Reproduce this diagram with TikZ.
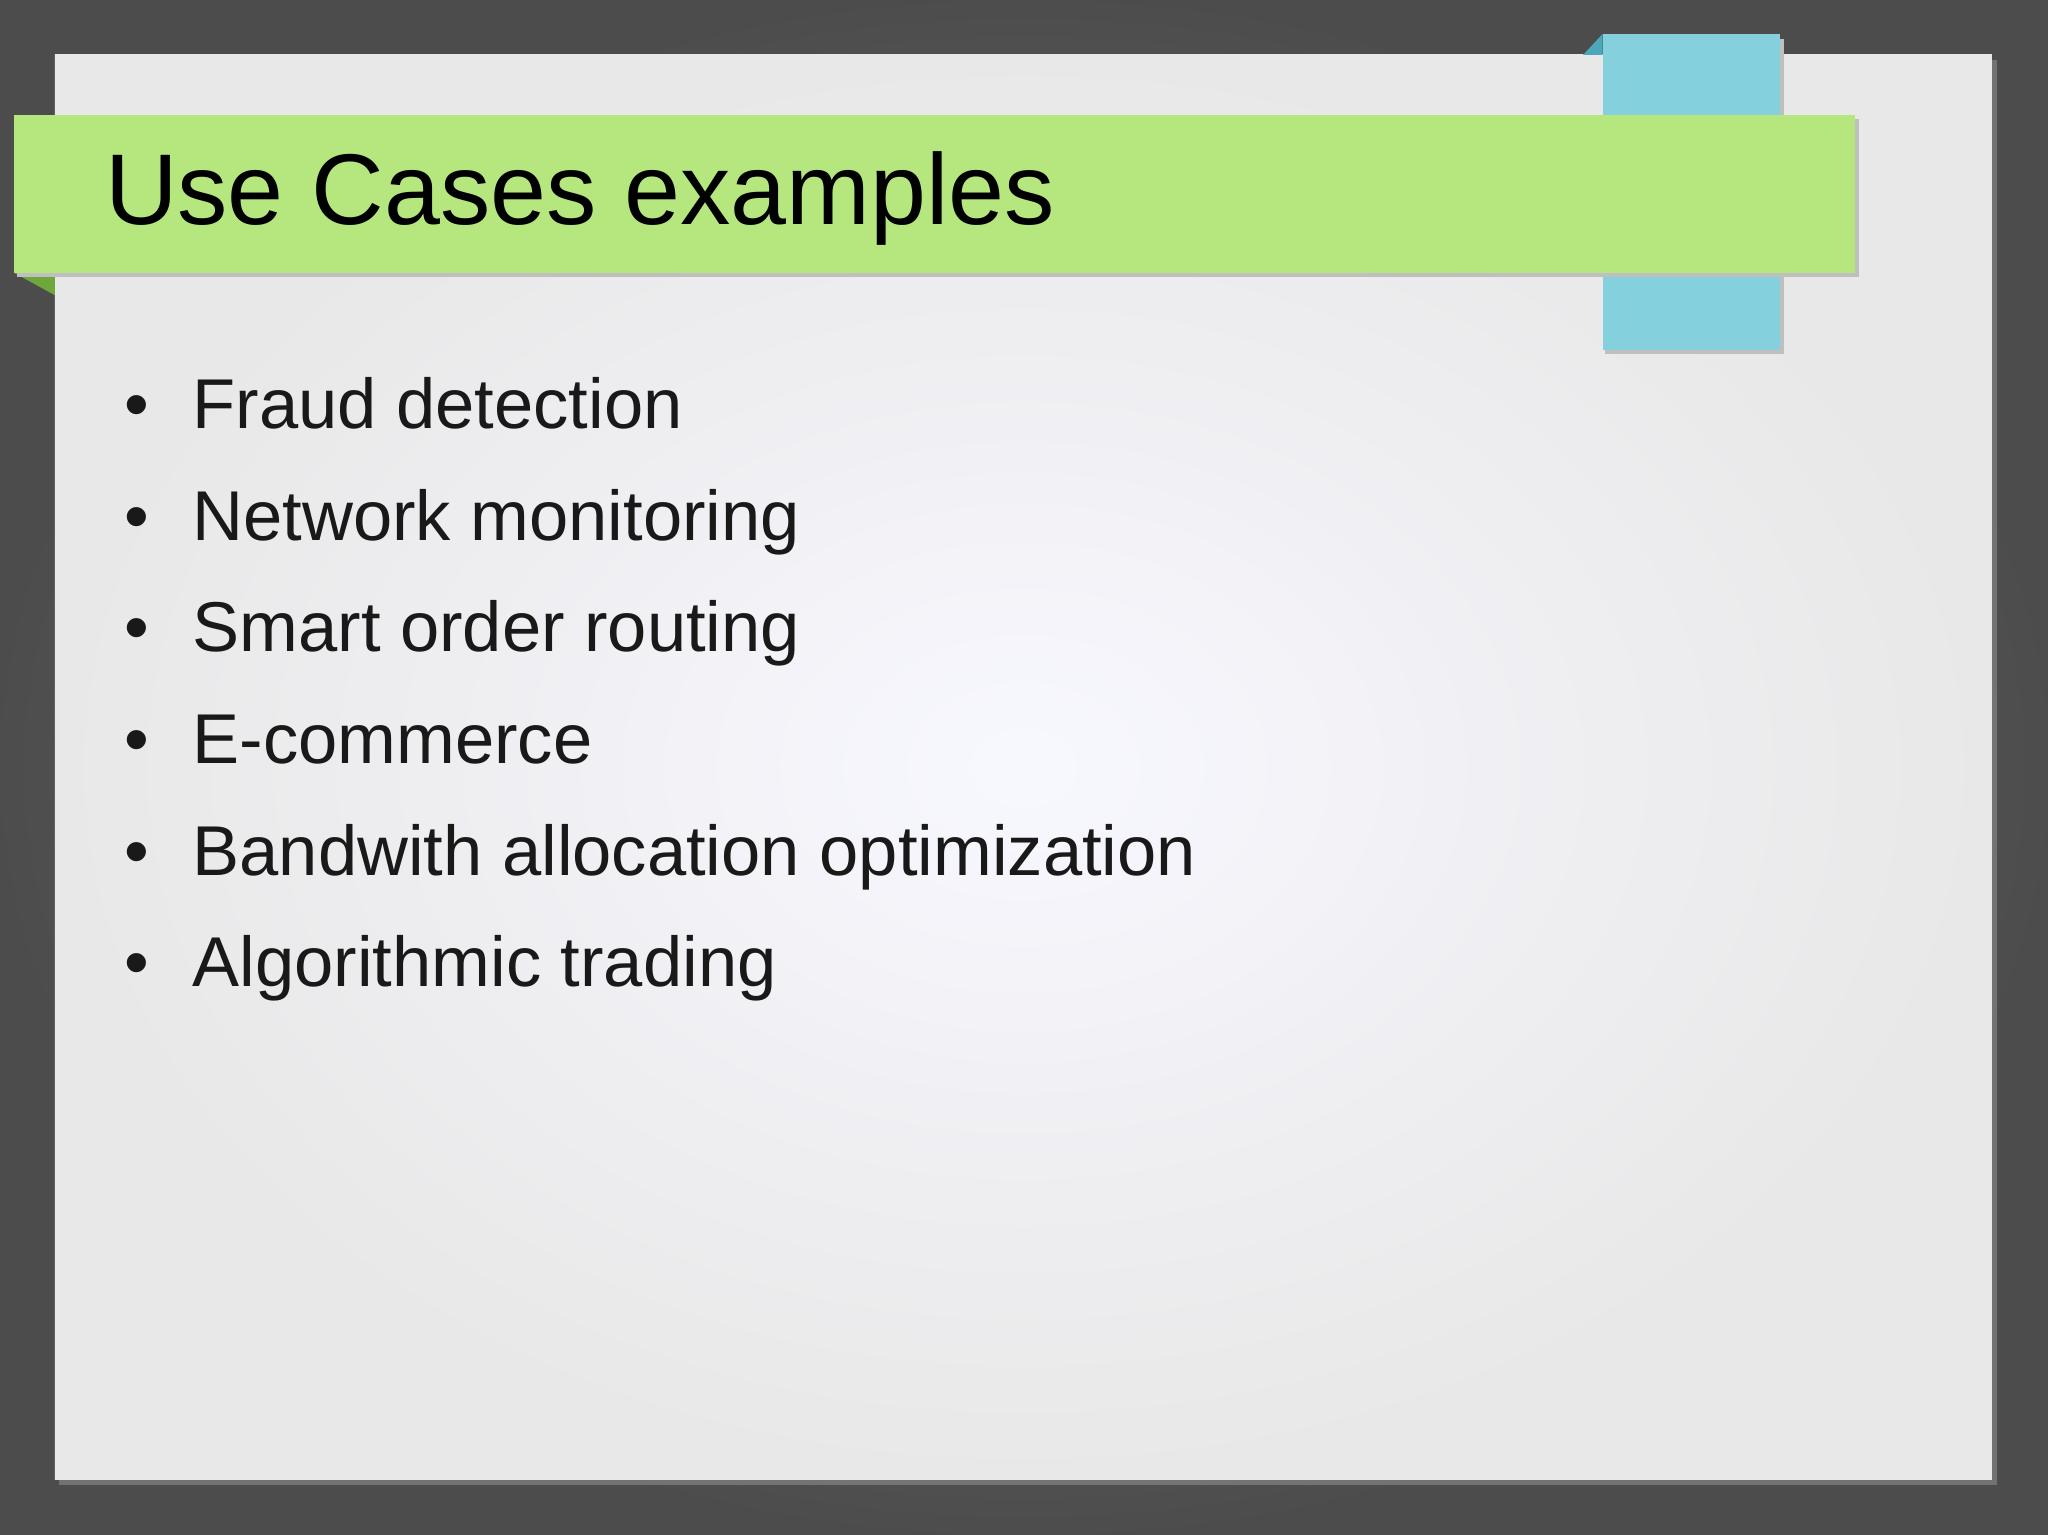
\documentclass[tikz,border=0pt]{standalone}
\usepackage{fontspec}
\setmainfont{Liberation Sans}
\begin{document}
\begin{tikzpicture}[x=0.5pt,y=-0.5pt,
  bul/.style={anchor=base west,inner sep=0pt,font=\fontsize{27}{32}\selectfont,text=black!90}]
\definecolor{bgd}{HTML}{555555}
\definecolor{tabblue}{HTML}{84D0DC}
\definecolor{tabdark}{HTML}{4AA8B8}
\definecolor{bannergreen}{HTML}{B5E77E}
\definecolor{greendark}{HTML}{6FA83A}
\useasboundingbox (0,0) rectangle (1568,1175);
\shade[inner color=bgd!80!white, outer color=bgd!90!black] (0,0) rectangle (1568,1175);
\fill[black!40,opacity=0.5] (45,46) rectangle (1529,1137);
\shade[inner color=white!97!blue, outer color=black!9] (42,42) rectangle (1525,1133);
\fill[tabdark] (1212,42) -- (1227,26) -- (1227,42) -- cycle;
\fill[black!25] (1229,30) rectangle (1366,271);
\fill[tabblue] (1227,26) rectangle (1363,268);
\fill[greendark] (11,209) -- (42,209) -- (42,226) -- cycle;
\fill[black!25] (13,91) rectangle (1423,212);
\fill[bannergreen] (11,88) rectangle (1420,209);
\node[anchor=base west,inner sep=0pt,font=\fontsize{38.5}{46}\selectfont] (title) at (80,172) {Use Cases examples};
\foreach \t [count=\i] in {Fraud detection,Network monitoring,Smart order routing,E-commerce,Bandwith allocation optimization,Algorithmic trading}{
  \node[bul] (b\i) at (147,{328+85.5*(\i-1)}) {\t};
  \node[bul] (d\i) at (95,{328+85.5*(\i-1)}) {•};
}
\end{tikzpicture}
\end{document}
